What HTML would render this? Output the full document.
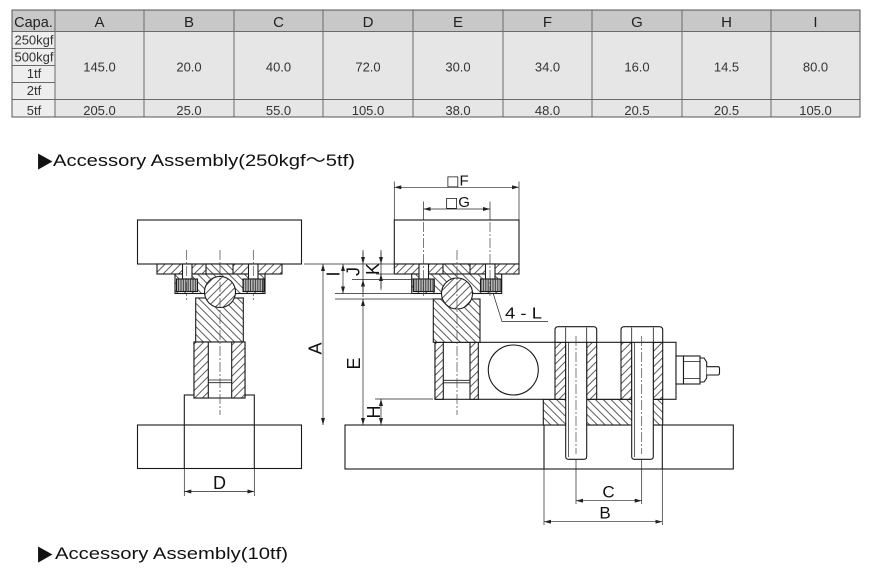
<!DOCTYPE html>
<html><head><meta charset="utf-8">
<style>html,body{margin:0;padding:0;background:#fff;}svg{display:block}</style>
</head>
<body>
<svg width="870" height="578" viewBox="0 0 870 578" xmlns="http://www.w3.org/2000/svg" font-family="'Liberation Sans', 'DejaVu Sans', sans-serif">
<defs>
  <pattern id="hs" patternUnits="userSpaceOnUse" width="5.5" height="10" patternTransform="rotate(45)">
    <rect width="5.5" height="10" fill="#fff"/>
    <line x1="1" y1="0" x2="1" y2="10" stroke="#333" stroke-width="0.8"/>
  </pattern>
  <pattern id="hb" patternUnits="userSpaceOnUse" width="5.5" height="10" patternTransform="rotate(-45)">
    <rect width="5.5" height="10" fill="#fff"/>
    <line x1="1" y1="0" x2="1" y2="10" stroke="#333" stroke-width="0.8"/>
  </pattern>
  <pattern id="kn" patternUnits="userSpaceOnUse" width="2.4" height="4">
    <rect width="2.4" height="4" fill="#b8b8b8"/>
    <line x1="1" y1="0" x2="1" y2="4" stroke="#333" stroke-width="0.9"/>
  </pattern>
  <marker id="ar" viewBox="0 0 7 4" refX="7" refY="2" markerWidth="7" markerHeight="4" markerUnits="userSpaceOnUse" orient="auto-start-reverse">
    <path d="M0,0 L7,2 L0,4 z" fill="#222"/>
  </marker>
</defs>

<!-- ================= TABLE ================= -->
<rect x="12" y="10" width="848" height="107" fill="#e6e6e6"/>
<rect x="12" y="10" width="848" height="21.5" fill="#c8c8c8"/>
<rect x="12" y="32" width="43" height="85" fill="#eeeeee"/>
<g stroke="#6a6a6a" stroke-width="1" fill="none">
  <line x1="12" y1="31.5" x2="860" y2="31.5"/>
  <line x1="12" y1="99.5" x2="860" y2="99.5"/>
  <line x1="12" y1="48.5" x2="55" y2="48.5"/>
  <line x1="12" y1="65.5" x2="55" y2="65.5"/>
  <line x1="12" y1="82.5" x2="55" y2="82.5"/>
  <line x1="55" y1="10" x2="55" y2="117"/>
  <line x1="144" y1="10" x2="144" y2="117"/>
  <line x1="234" y1="10" x2="234" y2="117"/>
  <line x1="323" y1="10" x2="323" y2="117"/>
  <line x1="413" y1="10" x2="413" y2="117"/>
  <line x1="503" y1="10" x2="503" y2="117"/>
  <line x1="592" y1="10" x2="592" y2="117"/>
  <line x1="682" y1="10" x2="682" y2="117"/>
  <line x1="771" y1="10" x2="771" y2="117"/>
</g>
<rect x="12" y="10" width="848" height="107" fill="none" stroke="#555" stroke-width="1"/>

<g fill="#222" font-size="15" text-anchor="middle">
  <text x="33.5" y="27" font-size="14.5">Capa.</text>
  <text x="99.5" y="27">A</text>
  <text x="189" y="27">B</text>
  <text x="278.5" y="27">C</text>
  <text x="368" y="27">D</text>
  <text x="458" y="27">E</text>
  <text x="547.5" y="27">F</text>
  <text x="637" y="27">G</text>
  <text x="726.5" y="27">H</text>
  <text x="815.5" y="27">I</text>
</g>
<g fill="#333" font-size="13" text-anchor="middle">
  <text x="34" y="44.3">250kgf</text>
  <text x="34" y="61.3">500kgf</text>
  <text x="34" y="78">1tf</text>
  <text x="34" y="95">2tf</text>
  <text x="34" y="115">5tf</text>

  <text x="99.5" y="71.5">145.0</text>
  <text x="189" y="71.5">20.0</text>
  <text x="278.5" y="71.5">40.0</text>
  <text x="368" y="71.5">72.0</text>
  <text x="458" y="71.5">30.0</text>
  <text x="547.5" y="71.5">34.0</text>
  <text x="637" y="71.5">16.0</text>
  <text x="726.5" y="71.5">14.5</text>
  <text x="815.5" y="71.5">80.0</text>

  <text x="99.5" y="115">205.0</text>
  <text x="189" y="115">25.0</text>
  <text x="278.5" y="115">55.0</text>
  <text x="368" y="115">105.0</text>
  <text x="458" y="115">38.0</text>
  <text x="547.5" y="115">48.0</text>
  <text x="637" y="115">20.5</text>
  <text x="726.5" y="115">20.5</text>
  <text x="815.5" y="115">105.0</text>
</g>

<!-- ================= TITLES ================= -->
<text x="38" y="167" font-family="'DejaVu Sans', sans-serif" font-size="21" textLength="14.5" lengthAdjust="spacingAndGlyphs" fill="#111">▶</text>
<text x="53" y="166" font-size="17" fill="#111" textLength="302" lengthAdjust="spacingAndGlyphs" font-family="'Liberation Sans', 'Noto Sans CJK JP', sans-serif">Accessory Assembly(250kgf～5tf)</text>

<text x="38" y="560" font-family="'DejaVu Sans', sans-serif" font-size="21" textLength="14.5" lengthAdjust="spacingAndGlyphs" fill="#111">▶</text>
<text x="55" y="559" font-size="17" fill="#111" textLength="233" lengthAdjust="spacingAndGlyphs">Accessory Assembly(10tf)</text>

<!-- ================= LEFT ASSEMBLY ================= -->
<g stroke="#1a1a1a" stroke-width="1.1" fill="#fff">
  <rect x="137.5" y="220" width="164" height="44"/>
  <rect x="157" y="264" width="125" height="10" fill="url(#hs)"/>
  <rect x="206" y="264" width="27" height="10" fill="url(#hb)"/>
  <rect x="175" y="274" width="90" height="19.5" fill="url(#hb)"/>
  <rect x="182.5" y="264" width="9.5" height="15"/>
  <rect x="248.5" y="264" width="9.5" height="15"/>
  <rect x="176.5" y="279" width="21" height="12.5" fill="url(#kn)"/>
  <rect x="243" y="279" width="21" height="12.5" fill="url(#kn)"/>
  <rect x="195.7" y="298" width="47.6" height="44" fill="url(#hb)"/>
  <circle cx="220" cy="292" r="15.5" fill="url(#hs)"/>
  <rect x="184.3" y="395" width="70" height="30"/>
  <rect x="194" y="342" width="51" height="56"/>
  <rect x="194" y="342" width="14.3" height="56" fill="url(#hs)"/>
  <rect x="231.7" y="342" width="13.3" height="56" fill="url(#hs)"/>
  <rect x="137.5" y="425" width="164" height="43.5"/>
  <line x1="184.3" y1="425" x2="184.3" y2="468.5"/>
  <line x1="254.3" y1="425" x2="254.3" y2="468.5"/>
  <line x1="208.3" y1="380" x2="231.7" y2="380" stroke-width="0.8"/>
  <line x1="208.3" y1="382.7" x2="231.7" y2="382.7" stroke-width="0.8"/>
</g>
<g stroke="#444" stroke-width="0.7" stroke-dasharray="10 2 2 2" fill="none">
  <line x1="220" y1="250" x2="220" y2="415"/>
  <line x1="186.7" y1="250" x2="186.7" y2="300"/>
  <line x1="253.3" y1="250" x2="253.3" y2="300"/>
</g>
<!-- D dimension -->
<g stroke="#222" stroke-width="0.7" fill="none">
  <line x1="184.3" y1="468.5" x2="184.3" y2="496"/>
  <line x1="254.3" y1="468.5" x2="254.3" y2="496"/>
  <line x1="184.3" y1="491.5" x2="254.3" y2="491.5" marker-start="url(#ar)" marker-end="url(#ar)"/>
</g>
<text x="219.5" y="489" font-size="18" text-anchor="middle" fill="#111">D</text>

<!-- ================= RIGHT ASSEMBLY ================= -->
<g stroke="#1a1a1a" stroke-width="1.1" fill="#fff">
  <rect x="345" y="425" width="388.3" height="44"/>
  <rect x="543.3" y="399.3" width="119.4" height="25.7" fill="url(#hb)"/>
  <!-- load cell -->
  <rect x="435" y="342.3" width="241" height="57"/>
  <rect x="435" y="342.3" width="8.3" height="57" fill="url(#hs)"/>
  <rect x="470" y="342.3" width="8.3" height="57" fill="url(#hs)"/>
  <line x1="443.3" y1="380.3" x2="470" y2="380.3" stroke-width="0.8"/>
  <line x1="443.3" y1="382.8" x2="470" y2="382.8" stroke-width="0.8"/>
  <circle cx="513.3" cy="370" r="25"/>
  <rect x="555" y="342.3" width="10.7" height="57" fill="url(#hs)"/>
  <rect x="586.7" y="342.3" width="10" height="57" fill="url(#hs)"/>
  <rect x="621" y="342.3" width="10.7" height="57" fill="url(#hs)"/>
  <rect x="653.3" y="342.3" width="9.4" height="57" fill="url(#hs)"/>
  <line x1="544" y1="425" x2="544" y2="469"/>
  <line x1="662.3" y1="425" x2="662.3" y2="469"/>
  <!-- bolt shafts -->
  <path d="M565.7,342.3 V456.5 Q565.7,459.3 568.5,459.3 H583.9 Q586.7,459.3 586.7,456.5 V342.3"/>
  <path d="M631.7,342.3 V456.5 Q631.7,459.3 634.5,459.3 H650.5 Q653.3,459.3 653.3,456.5 V342.3"/>
  <line x1="568.5" y1="342.3" x2="568.5" y2="457" stroke-width="0.7"/>
  <line x1="634.5" y1="342.3" x2="634.5" y2="457" stroke-width="0.7"/>
  <!-- bolt heads -->
  <path d="M555,342.3 V330 Q555,326.7 558.3,326.7 H593.4 Q596.7,326.7 596.7,330 V342.3 Z"/>
  <path d="M621,342.3 V330 Q621,326.7 624.3,326.7 H659.4 Q662.7,326.7 662.7,330 V342.3 Z"/>
  <line x1="565.7" y1="327.5" x2="565.7" y2="342.3" stroke-width="0.8"/>
  <line x1="586.7" y1="327.5" x2="586.7" y2="342.3" stroke-width="0.8"/>
  <line x1="631.7" y1="327.5" x2="631.7" y2="342.3" stroke-width="0.8"/>
  <line x1="653.3" y1="327.5" x2="653.3" y2="342.3" stroke-width="0.8"/>
  <!-- cable gland -->
  <rect x="676" y="356" width="7.5" height="28"/>
  <rect x="683.5" y="356" width="16.5" height="28"/>
  <line x1="683.5" y1="361.5" x2="700" y2="361.5" stroke-width="0.8"/>
  <line x1="683.5" y1="378.5" x2="700" y2="378.5" stroke-width="0.8"/>
  <path d="M700,358 H704 L706.7,362 V378 L704,382 H700 Z"/>
  <path d="M706.7,366.7 H718 Q719.5,366.7 719.5,368.5 V373 Q719.5,375 718,375 H706.7"/>

  <!-- upper parts -->
  <rect x="394.3" y="220" width="124.7" height="44"/>
  <rect x="394.3" y="264" width="124.7" height="10" fill="url(#hs)"/>
  <rect x="443" y="264" width="27" height="10" fill="url(#hb)"/>
  <rect x="411.7" y="274" width="90" height="19.5" fill="url(#hb)"/>
  <rect x="419" y="264" width="9.5" height="15"/>
  <rect x="485.5" y="264" width="9.5" height="15"/>
  <rect x="413.3" y="279" width="21" height="12.5" fill="url(#kn)"/>
  <rect x="480.5" y="279" width="21" height="12.5" fill="url(#kn)"/>
  <rect x="433.3" y="299" width="46.7" height="43.3" fill="url(#hb)"/>
  <circle cx="457" cy="293.5" r="15.5" fill="url(#hs)"/>
</g>
<g stroke="#444" stroke-width="0.7" stroke-dasharray="10 2 2 2" fill="none">
  <line x1="457" y1="250" x2="457" y2="415"/>
  <line x1="423.5" y1="222" x2="423.5" y2="298"/>
  <line x1="490" y1="222" x2="490" y2="298"/>
  <line x1="576" y1="336" x2="576" y2="454"/>
  <line x1="641.7" y1="336" x2="641.7" y2="454"/>
</g>

<!-- dimensions right -->
<g stroke="#222" stroke-width="0.7" fill="none">
  <line x1="394.3" y1="181.5" x2="394.3" y2="220"/>
  <line x1="519" y1="181.5" x2="519" y2="220"/>
  <line x1="394.3" y1="187.3" x2="519" y2="187.3" marker-start="url(#ar)" marker-end="url(#ar)"/>
  <line x1="423.5" y1="201.5" x2="423.5" y2="220"/>
  <line x1="490" y1="201.5" x2="490" y2="220"/>
  <line x1="423.5" y1="209" x2="490" y2="209" marker-start="url(#ar)" marker-end="url(#ar)"/>
  <line x1="304" y1="264" x2="394" y2="264"/>
  <line x1="376" y1="274" x2="394" y2="274"/>
  <line x1="352" y1="279.5" x2="412" y2="279.5"/>
  <line x1="335" y1="293.5" x2="411" y2="293.5"/>
  <line x1="335" y1="299" x2="433" y2="299"/>
  <line x1="375" y1="399" x2="433" y2="399"/>
  <line x1="323" y1="264" x2="323" y2="425" marker-start="url(#ar)" marker-end="url(#ar)"/>
  <line x1="343" y1="264" x2="343" y2="293.5" marker-start="url(#ar)" marker-end="url(#ar)"/>
  <line x1="363" y1="250" x2="363" y2="297"/>
  <line x1="363" y1="252" x2="363" y2="264" marker-end="url(#ar)"/>
  <line x1="363" y1="292" x2="363" y2="279.5" marker-end="url(#ar)"/>
  <line x1="363" y1="299" x2="363" y2="425" marker-start="url(#ar)" marker-end="url(#ar)"/>
  <line x1="381" y1="250" x2="381" y2="290"/>
  <line x1="381" y1="252" x2="381" y2="264" marker-end="url(#ar)"/>
  <line x1="381" y1="288" x2="381" y2="274" marker-end="url(#ar)"/>
  <line x1="381" y1="399" x2="381" y2="425" marker-start="url(#ar)" marker-end="url(#ar)"/>
  <polyline points="493,293 502,321.5 548,321.5"/>
  <line x1="576" y1="459" x2="576" y2="504"/>
  <line x1="641.7" y1="459" x2="641.7" y2="504"/>
  <line x1="576" y1="500.7" x2="641.7" y2="500.7" marker-start="url(#ar)" marker-end="url(#ar)"/>
  <line x1="544" y1="469" x2="544" y2="525"/>
  <line x1="662.3" y1="469" x2="662.3" y2="525"/>
  <line x1="544" y1="521.7" x2="662.3" y2="521.7" marker-start="url(#ar)" marker-end="url(#ar)"/>
</g>

<g fill="#111" font-size="17" text-anchor="middle">
  <text x="457.5" y="185.5"><tspan font-family="'DejaVu Sans', sans-serif" font-size="14">□</tspan><tspan font-size="15">F</tspan></text>
  <text x="457.5" y="207"><tspan font-family="'DejaVu Sans', sans-serif" font-size="14">□</tspan><tspan font-size="15">G</tspan></text>
  <text x="523.5" y="318.3" font-size="16" textLength="37" lengthAdjust="spacingAndGlyphs">4 - L</text>
  <text x="608.5" y="497.3">C</text>
  <text x="605" y="518.3">B</text>
  <text x="315.5" y="348.5" font-size="18" dominant-baseline="central" transform="rotate(-90 315.5 348.5)">A</text>
  <text x="354" y="363.5" font-size="18" dominant-baseline="central" transform="rotate(-90 354 363.5)">E</text>
  <text x="374" y="412" font-size="18" dominant-baseline="central" transform="rotate(-90 374 412)">H</text>
  <text x="333.5" y="274" font-size="18" dominant-baseline="central" transform="rotate(-90 333.5 274)">I</text>
  <text x="353.5" y="271.5" font-size="18" dominant-baseline="central" transform="rotate(-90 353.5 271.5)">J</text>
  <text x="373" y="269" font-size="18" dominant-baseline="central" transform="rotate(-90 373 269)">K</text>
</g>
</svg>
</body></html>
